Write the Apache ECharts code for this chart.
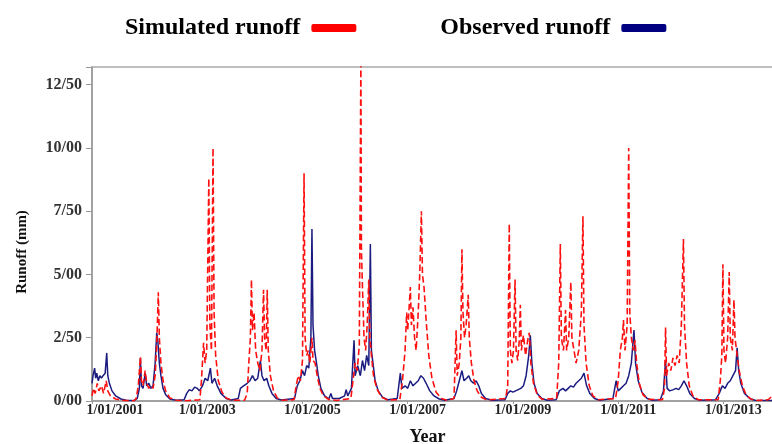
<!DOCTYPE html>
<html>
<head>
<meta charset="utf-8">
<script src="https://cdn.jsdelivr.net/npm/echarts@6/dist/echarts.min.js"></script>
<style>
  html, body { margin: 0; padding: 0; background: #fff; overflow: hidden; }
  #chart { width: 100vw; height: 100vh; }
</style>
</head>
<body>
<div id="chart"></div>
<script>
// x values are decimal years, y values runoff (mm)
const obsX = [
  2001.00, 2001.02, 2001.05, 2001.07, 2001.09, 2001.12, 2001.15, 2001.18, 2001.21, 2001.25, 2001.28, 2001.30, 2001.33, 2001.38, 2001.45, 2001.55, 2001.65, 2001.80,
  2001.86, 2001.90, 2001.92, 2001.94, 2001.97, 2002.01, 2002.04, 2002.08, 2002.12, 2002.16, 2002.20, 2002.23, 2002.25, 2002.28, 2002.31, 2002.35, 2002.40, 2002.48, 2002.60,
  2002.75, 2002.80, 2002.85, 2002.90, 2002.95, 2003.00, 2003.04, 2003.10, 2003.15, 2003.20, 2003.25, 2003.28, 2003.33, 2003.38, 2003.45, 2003.55, 2003.65,
  2003.78, 2003.82, 2003.88, 2003.95, 2004.00, 2004.05, 2004.10, 2004.15, 2004.20, 2004.23, 2004.27, 2004.32, 2004.36, 2004.42, 2004.50, 2004.60,
  2004.85, 2004.90, 2004.95, 2005.00, 2005.04, 2005.08, 2005.12, 2005.16, 2005.18, 2005.20, 2005.23, 2005.26, 2005.30, 2005.35, 2005.42, 2005.50, 2005.54, 2005.57, 2005.70, 2005.80, 2005.83, 2005.86,
  2005.93, 2005.98, 2006.00, 2006.05, 2006.10, 2006.14, 2006.18, 2006.22, 2006.26, 2006.29, 2006.31, 2006.34, 2006.38, 2006.44, 2006.52, 2006.62,
  2006.80, 2006.86, 2006.89, 2006.95, 2007.00, 2007.05, 2007.10, 2007.15, 2007.20, 2007.25, 2007.30, 2007.35, 2007.42, 2007.50, 2007.60, 2007.70,
  2007.88, 2007.93, 2007.98, 2008.03, 2008.07, 2008.12, 2008.16, 2008.20, 2008.25, 2008.30, 2008.35, 2008.40, 2008.48, 2008.60,
  2008.85, 2008.90, 2008.95, 2009.00, 2009.05, 2009.10, 2009.15, 2009.20, 2009.25, 2009.30, 2009.33, 2009.36, 2009.40, 2009.46, 2009.55, 2009.65,
  2009.82, 2009.88, 2009.95, 2010.00, 2010.05, 2010.10, 2010.15, 2010.20, 2010.25, 2010.30, 2010.35, 2010.40, 2010.46, 2010.55, 2010.65,
  2010.90, 2010.96, 2011.00, 2011.05, 2011.10, 2011.15, 2011.20, 2011.25, 2011.30, 2011.33, 2011.38, 2011.45, 2011.55, 2011.65,
  2011.80, 2011.86, 2011.90, 2011.93, 2011.98, 2012.05, 2012.10, 2012.15, 2012.20, 2012.25, 2012.30, 2012.36, 2012.45, 2012.55,
  2012.85, 2012.92, 2012.98, 2013.03, 2013.08, 2013.13, 2013.18, 2013.23, 2013.26, 2013.29, 2013.33, 2013.40, 2013.50, 2013.60, 2013.98
];
const obsY = [
  0.7, 1.0, 1.3, 0.9, 1.1, 0.8, 1.0, 0.9, 1.0, 1.1, 1.9, 1.0, 0.7, 0.4, 0.2, 0.08, 0.03, 0.02,
  0.1, 0.5, 1.7, 0.6, 0.5, 1.1, 0.6, 0.7, 0.5, 0.6, 1.5, 2.7, 2.4, 1.5, 1.0, 0.5, 0.25, 0.08, 0.03,
  0.05, 0.3, 0.45, 0.4, 0.55, 0.5, 0.4, 0.6, 0.9, 0.8, 1.3, 0.7, 0.9, 0.6, 0.3, 0.1, 0.04,
  0.1, 0.5, 0.6, 0.7, 0.8, 1.0, 0.8, 0.9, 1.6, 1.0, 0.8, 0.9, 0.6, 0.3, 0.1, 0.04,
  0.1, 0.6, 0.8, 1.2, 1.0, 1.4, 1.3, 2.5, 6.8, 3.0, 2.0, 1.6, 1.0, 0.5, 0.2, 0.08, 0.3, 0.1, 0.1, 0.2, 0.45, 0.2,
  0.5, 2.4, 1.0, 1.4, 1.0, 1.6, 1.2, 1.8, 1.4, 6.2, 2.0, 1.5, 0.8, 0.4, 0.15, 0.05,
  0.1, 1.1, 0.5, 0.6, 0.5, 0.8, 0.6, 0.7, 0.8, 1.0, 0.9, 0.7, 0.4, 0.2, 0.08, 0.03,
  0.1, 0.4, 0.8, 1.2, 0.8, 0.9, 1.0, 0.8, 0.7, 0.8, 0.6, 0.3, 0.1, 0.03,
  0.05, 0.3, 0.4, 0.35, 0.4, 0.45, 0.5, 0.6, 1.0, 1.8, 2.6, 1.5, 0.7, 0.3, 0.1, 0.03,
  0.05, 0.4, 0.5, 0.4, 0.5, 0.6, 0.55, 0.7, 0.8, 0.9, 1.1, 0.6, 0.3, 0.1, 0.03,
  0.1, 0.8, 0.4, 0.5, 0.6, 0.7, 1.0, 1.5, 2.8, 1.5, 0.8, 0.35, 0.1, 0.03,
  0.05, 0.4, 1.6, 0.5, 0.4, 0.45, 0.5, 0.45, 0.6, 0.8, 0.6, 0.3, 0.1, 0.03,
  0.05, 0.3, 0.6, 0.5, 0.7, 0.8, 1.0, 1.2, 2.1, 1.2, 0.7, 0.3, 0.1, 0.03, 0.02
];

const simX = [
  2001.00, 2001.03, 2001.06, 2001.10, 2001.13, 2001.18, 2001.22, 2001.27, 2001.30, 2001.35, 2001.45, 2001.60, 2001.80,
  2001.84, 2001.88, 2001.92, 2001.94, 2001.97, 2002.01, 2002.04, 2002.08, 2002.12, 2002.16, 2002.20, 2002.23, 2002.26, 2002.28, 2002.31, 2002.35, 2002.40, 2002.48, 2002.60, 2002.80,
  2003.05, 2003.08, 2003.12, 2003.15, 2003.18, 2003.22, 2003.24, 2003.27, 2003.30, 2003.32, 2003.35, 2003.40, 2003.47, 2003.55, 2003.65,
  2003.90, 2003.95, 2003.98, 2004.01, 2004.03, 2004.05, 2004.08, 2004.11, 2004.15, 2004.19, 2004.23, 2004.26, 2004.28, 2004.31, 2004.33, 2004.35, 2004.39, 2004.45, 2004.52, 2004.62,
  2004.84, 2004.88, 2004.92, 2004.96, 2005.00, 2005.03, 2005.05, 2005.08, 2005.11, 2005.14, 2005.18, 2005.20, 2005.24, 2005.28, 2005.33, 2005.40, 2005.50, 2005.65,
  2005.92, 2005.96, 2006.00, 2006.04, 2006.08, 2006.11, 2006.12, 2006.14, 2006.17, 2006.20, 2006.23, 2006.26, 2006.28, 2006.31, 2006.35, 2006.41, 2006.50, 2006.62,
  2006.85, 2006.90, 2006.95, 2006.98, 2007.00, 2007.03, 2007.05, 2007.07, 2007.10, 2007.13, 2007.16, 2007.20, 2007.23, 2007.26, 2007.28, 2007.31, 2007.35, 2007.40, 2007.46, 2007.54, 2007.64, 2007.75,
  2007.88, 2007.92, 2007.94, 2007.98, 2008.01, 2008.03, 2008.05, 2008.08, 2008.11, 2008.15, 2008.17, 2008.21, 2008.26, 2008.32, 2008.40, 2008.50,
  2008.86, 2008.90, 2008.93, 2008.95, 2008.98, 2009.01, 2009.04, 2009.06, 2009.09, 2009.12, 2009.14, 2009.16, 2009.20, 2009.24, 2009.28, 2009.31, 2009.34, 2009.39, 2009.46, 2009.55,
  2009.83, 2009.87, 2009.90, 2009.92, 2009.96, 2010.00, 2010.02, 2010.06, 2010.10, 2010.12, 2010.16, 2010.20, 2010.25, 2010.30, 2010.33, 2010.35, 2010.39, 2010.45, 2010.52, 2010.62,
  2010.95, 2011.00, 2011.04, 2011.08, 2011.10, 2011.13, 2011.17, 2011.20, 2011.22, 2011.25, 2011.29, 2011.32, 2011.35, 2011.40, 2011.47, 2011.56,
  2011.84, 2011.88, 2011.90, 2011.92, 2011.96, 2012.00, 2012.04, 2012.08, 2012.12, 2012.16, 2012.20, 2012.24, 2012.26, 2012.30, 2012.35, 2012.42, 2012.52,
  2012.90, 2012.94, 2012.97, 2012.99, 2013.01, 2013.04, 2013.08, 2013.11, 2013.13, 2013.17, 2013.20, 2013.22, 2013.26, 2013.30, 2013.36, 2013.43, 2013.52, 2013.62, 2013.85, 2013.98
];
const simY = [
  0.2, 0.5, 0.3, 0.7, 0.4, 0.6, 0.3, 0.8, 0.4, 0.2, 0.08, 0.02, 0.01,
  0.1, 0.6, 1.75, 0.8, 0.6, 1.2, 0.7, 0.5, 0.6, 0.5, 1.0, 2.2, 4.3, 2.5, 1.5, 0.8, 0.4, 0.12, 0.03, 0.01,
  0.05, 0.8, 2.3, 1.5, 2.0, 8.8, 3.0, 2.0, 10.0, 3.5, 1.8, 0.8, 0.35, 0.12, 0.03,
  0.03, 0.3, 1.5, 2.5, 4.8, 2.8, 3.5, 2.0, 1.5, 1.2, 2.0, 4.4, 2.5, 2.0, 4.4, 2.0, 1.0, 0.4, 0.12, 0.03,
  0.05, 0.6, 1.0, 0.8, 1.6, 9.0, 2.5, 1.8, 2.0, 1.5, 2.5, 1.6, 1.5, 1.0, 0.5, 0.2, 0.06, 0.02,
  0.1, 0.8, 1.5, 1.2, 2.2, 13.5, 6.0, 4.5, 2.5, 2.0, 3.0, 4.8, 2.5, 1.8, 1.0, 0.5, 0.15, 0.04,
  0.05, 0.8, 2.0, 3.5, 2.8, 3.8, 4.5, 3.0, 3.7, 2.5, 2.0, 3.5, 5.1, 7.5, 5.0, 4.5, 3.2, 1.8, 0.9, 0.35, 0.1, 0.03,
  0.1, 2.8, 1.0, 1.5, 2.5, 6.0, 3.5, 2.5, 3.0, 4.2, 2.5, 1.5, 0.8, 0.4, 0.15, 0.04,
  0.1, 0.6, 7.0, 2.0, 1.5, 2.0, 4.8, 2.0, 1.6, 2.4, 3.8, 2.0, 2.6, 1.8, 2.4, 2.7, 1.5, 0.7, 0.25, 0.07,
  0.1, 1.5, 6.2, 2.5, 2.0, 3.6, 2.0, 2.5, 4.7, 2.5, 2.0, 1.5, 2.0, 3.5, 7.3, 3.0, 1.5, 0.6, 0.2, 0.05,
  0.1, 0.8, 2.0, 2.5, 3.2, 2.0, 3.0, 10.0, 3.5, 2.5, 2.0, 2.4, 1.5, 0.7, 0.25, 0.07,
  0.05, 0.5, 2.9, 1.0, 1.5, 1.2, 1.7, 1.4, 1.8, 1.5, 3.0, 6.4, 3.0, 1.5, 0.6, 0.2, 0.05,
  0.05, 0.8, 1.8, 5.4, 2.0, 1.5, 2.5, 5.1, 2.5, 2.0, 4.0, 2.5, 1.8, 1.2, 0.6, 0.25, 0.08, 0.02, 0.05, 0.3
];

const yearTicks = [2001, 2003, 2005, 2007, 2009, 2011, 2013];
const seriesNames = ['Simulated runoff', 'Observed runoff'];

const serifBold = { fontFamily: 'Liberation Serif', fontWeight: 'bold', color: '#111' };

function pairs(xs, ys) {
  return xs.map((x, i) => [x, ys[i]]);
}

function yearLabel(v) {
  if (!yearTicks.includes(v)) return '';
  // first label sits a little further right, clear of the 0/00 label
  return v === yearTicks[0] ? '{first|1/01/' + v + '}' : '1/01/' + v;
}

let myChart = echarts.init(document.getElementById('chart'));
let option = {
  animation: false,
  backgroundColor: '#fff',
  legend: {
    data: seriesNames,
    left: 120,
    top: 11,
    align: 'right',
    itemGap: 84,
    itemWidth: 45,
    itemHeight: 8,
    icon: 'roundRect',
    textStyle: Object.assign({}, serifBold, { fontSize: 24, color: '#000', padding: [0, 6, 0, 0] })
  },
  grid: {
    left: 92,
    right: -3,
    top: 67,
    bottom: 43,
    outerBoundsMode: 'none',
    show: true,
    borderColor: '#aaa',
    borderWidth: 1.5
  },
  xAxis: {
    type: 'value',
    min: 2001,
    max: 2013.98,
    interval: 2,
    name: 'Year',
    nameLocation: 'middle',
    nameGap: 27,
    nameTextStyle: Object.assign({}, serifBold, { fontSize: 18, padding: [0, 12, 0, 0] }),
    axisLine: { lineStyle: { color: '#999', width: 1.5 } },
    axisTick: { show: true, length: 3, lineStyle: { color: '#999' } },
    splitLine: { show: false },
    axisLabel: Object.assign({}, serifBold, {
      fontSize: 14,
      color: '#222',
      margin: 2,
      padding: [0, 0, 0, 20],
      formatter: yearLabel,
      rich: {
        first: { fontFamily: 'Liberation Serif', fontWeight: 'bold', fontSize: 14, color: '#222', padding: [0, 0, 0, 26] }
      }
    })
  },
  yAxis: {
    type: 'value',
    min: 0,
    max: 13.2,
    interval: 2.5,
    name: 'Runoff (mm)',
    nameLocation: 'middle',
    nameGap: 62,
    nameTextStyle: Object.assign({}, serifBold, { fontSize: 15, padding: [0, 36, 0, 0] }),
    axisLine: { show: true, lineStyle: { color: '#999', width: 1.5 } },
    axisTick: { show: true, length: 6, lineStyle: { color: '#999' } },
    splitLine: { show: false },
    axisLabel: Object.assign({}, serifBold, {
      fontSize: 16,
      color: '#333',
      margin: 10,
      formatter: v => v > 12.5 ? '' : v.toFixed(2).replace('.', '/')
    })
  },
  series: [{
    name: 'Observed runoff',
    type: 'line',
    data: pairs(obsX, obsY),
    showSymbol: false,
    color: '#000080',
    lineStyle: { color: '#1c1c80', width: 1.5 },
    z: 2
  }, {
    name: 'Simulated runoff',
    type: 'line',
    data: pairs(simX, simY),
    showSymbol: false,
    color: '#ff0000',
    lineStyle: { color: '#ff1010', width: 1.6, type: 'dashed' },
    z: 3
  }]
};
myChart.setOption(option);
</script>
</body>
</html>
